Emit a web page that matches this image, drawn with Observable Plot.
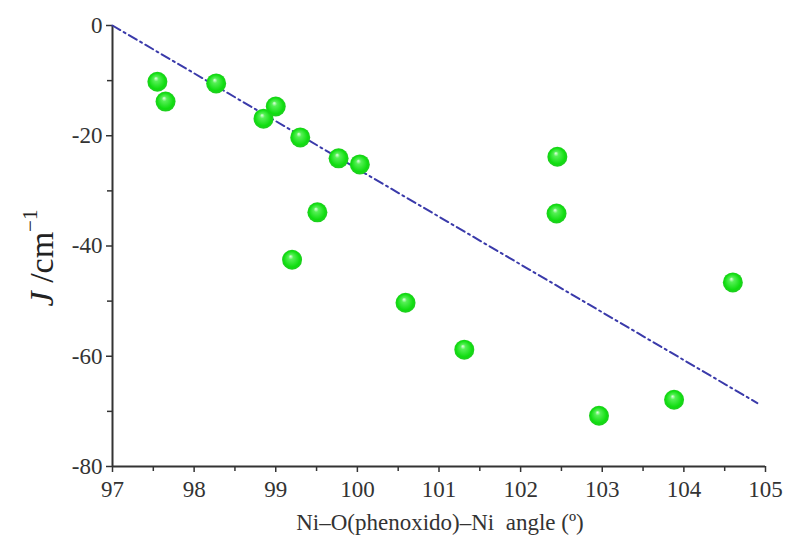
<!DOCTYPE html>
<html><head><meta charset="utf-8">
<script src="https://cdn.jsdelivr.net/npm/d3@7"></script>
<script src="https://cdn.jsdelivr.net/npm/@observablehq/plot@0.6"></script>
<style>body{margin:0;background:#fff}</style>
</head><body><div id="chart"></div>
<script>
const angle = [97.55, 97.65, 98.27, 98.85, 99.0, 99.3, 99.77, 100.03, 99.51, 99.2, 100.59, 101.31, 102.45, 102.44, 102.96, 103.88, 104.6];
const J = [-10.2, -13.8, -10.5, -16.9, -14.7, -20.3, -24.1, -25.2, -33.9, -42.5, -50.3, -58.8, -23.8, -34.1, -70.8, -67.9, -46.6];
const fitX = [97, 104.9];
const fitY = [0, -68.5];
const xTicks = [97, 98, 99, 100, 101, 102, 103, 104, 105];
const yTicks = [0, -20, -40, -60, -80];

const points = angle.map((a, i) => ({a, j: J[i]}));
const fit = fitX.map((a, i) => ({a, j: fitY[i]}));

const font = "'Liberation Serif', 'Times New Roman', serif";
const plot = Plot.plot({
  width: 791, height: 552,
  marginLeft: 112, marginRight: 26, marginTop: 25, marginBottom: 86,
  style: {fontFamily: font, fontSize: "23px", color: "#333", background: "#fff"},
  x: {domain: [97, 105]},
  y: {domain: [-80, 0]},
  marks: [
    Plot.axisX(d3.range(97.5, 105, 1), {tickSize: 5, tickFormat: () => "", stroke: "#333", strokeWidth: 1.5, label: null}),
    Plot.axisY(d3.range(-70, 0, 20), {tickSize: 5, tickFormat: () => "", stroke: "#333", strokeWidth: 1.5, label: null}),
    Plot.axisX(xTicks, {tickSize: 6, tickPadding: 8, fontSize: 23, tickFormat: d => String(d), stroke: "#333", strokeWidth: 1.5, fill: "#333", label: null}),
    Plot.axisY(yTicks, {tickSize: 6, tickPadding: 4, fontSize: 23, tickFormat: d => String(d), stroke: "#333", strokeWidth: 1.5, fill: "#333", label: null}),
    Plot.ruleX([97], {stroke: "#333", strokeWidth: 2}),
    Plot.ruleY([-80], {stroke: "#333", strokeWidth: 2}),
    Plot.line(fit, {x: "a", y: "j", stroke: "#3a3aaa", strokeWidth: 2, strokeDasharray: "9,4,2,4"}),
    Plot.dot(points, {x: "a", y: "j", r: 10, fill: "url(#sphere)", stroke: "none"})
  ]
});
const svg = d3.select(plot);
const defs = svg.insert("defs", ":first-child");
const g = defs.append("radialGradient").attr("id", "sphere").attr("cx", "0.5").attr("cy", "0.5").attr("r", "0.5").attr("fx", "0.42").attr("fy", "0.32");
g.append("stop").attr("offset", "0").attr("stop-color", "#e6ffe6");
g.append("stop").attr("offset", "0.25").attr("stop-color", "#55f055");
g.append("stop").attr("offset", "0.8").attr("stop-color", "#10dd10");
g.append("stop").attr("offset", "1").attr("stop-color", "#22cc22");
const yl = svg.append("text").attr("transform", "translate(53,258) rotate(-90)").attr("text-anchor", "middle")
  .attr("font-family", font).attr("font-size", 34).attr("fill", "#222");
yl.append("tspan").attr("font-style", "italic").text("J");
yl.append("tspan").text(" /cm");
yl.append("tspan").attr("dy", -16).attr("font-size", 21).text("−1");
svg.append("text").attr("x", 440).attr("y", 530).attr("text-anchor", "middle")
  .attr("font-family", font).attr("font-size", 23).attr("fill", "#333")
  .text("Ni–O(phenoxido)–Ni  angle (º)").attr("xml:space", "preserve").style("white-space", "pre");
document.getElementById("chart").appendChild(plot);
</script></body></html>
